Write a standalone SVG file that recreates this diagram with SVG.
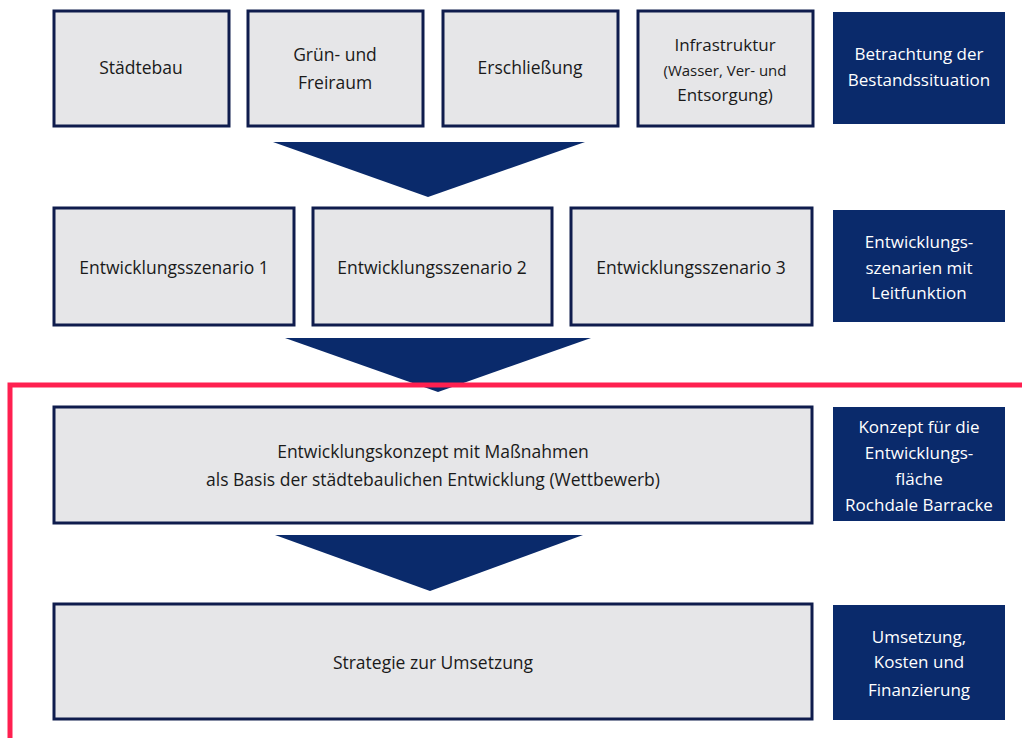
<svg xmlns="http://www.w3.org/2000/svg" width="1022" height="738" viewBox="0 0 1022 738">
<style>
.box{fill:#e6e6e8;stroke:#0f1c4d;stroke-width:3}
.dark{fill:#0a2a6b}
.arrow{fill:#0a2a6b}
.t{font-family:"Open Sans","Liberation Sans",sans-serif;font-size:17.5px;fill:#1a1a1a;text-anchor:middle}
.w{font-family:"Open Sans","Liberation Sans",sans-serif;font-size:17px;fill:#ffffff;text-anchor:middle}
</style>
<rect width="1022" height="738" fill="#ffffff"/>
<g id="connectors">
<polygon class="arrow" points="273,142 585,142 428,197"/>
<polygon class="arrow" points="285,338 591,338 438,392"/>
<polygon class="arrow" points="275,535 583,535 430,591"/>
</g>
<g id="staedtebau"><rect class="box" x="54" y="11" width="175" height="115"/><text class="t" x="141" y="74">Städtebau</text></g>
<g id="gruen"><rect class="box" x="248" y="11" width="175" height="115"/><text class="t" x="335" y="61">Grün- und</text><text class="t" x="335" y="89">Freiraum</text></g>
<g id="erschliessung"><rect class="box" x="443" y="11" width="175" height="115"/><text class="t" x="530" y="74">Erschließung</text></g>
<g id="infrastruktur"><rect class="box" x="638" y="11" width="175" height="115"/><text class="t" x="725" y="51" style="font-size:17px">Infrastruktur</text><text class="t" x="725" y="76" style="font-size:15px">(Wasser, Ver- und</text><text class="t" x="725" y="101" style="font-size:17px">Entsorgung)</text></g>
<g id="bestand"><rect class="dark" x="833" y="12" width="172" height="112"/><text class="w" x="919" y="60">Betrachtung der</text><text class="w" x="919" y="86">Bestandssituation</text></g>
<g id="szenario1"><rect class="box" x="54" y="208" width="240" height="117"/><text class="t" x="174" y="274">Entwicklungsszenario 1</text></g>
<g id="szenario2"><rect class="box" x="313" y="208" width="239" height="117"/><text class="t" x="432" y="274">Entwicklungsszenario 2</text></g>
<g id="szenario3"><rect class="box" x="571" y="208" width="241" height="117"/><text class="t" x="691" y="274">Entwicklungsszenario 3</text></g>
<g id="szenarien"><rect class="dark" x="833" y="210" width="172" height="112"/><text class="w" x="919" y="248">Entwicklungs-</text><text class="w" x="919" y="274">szenarien mit</text><text class="w" x="919" y="299">Leitfunktion</text></g>
<g id="konzept"><rect class="box" x="54" y="407" width="758" height="116"/><text class="t" x="433" y="458">Entwicklungskonzept mit Maßnahmen</text><text class="t" x="433" y="486">als Basis der städtebaulichen Entwicklung (Wettbewerb)</text></g>
<g id="konzeptlabel"><rect class="dark" x="833" y="407" width="172" height="114"/><text class="w" x="919" y="433">Konzept für die</text><text class="w" x="919" y="459">Entwicklungs-</text><text class="w" x="919" y="485">fläche</text><text class="w" x="919" y="511">Rochdale Barracke</text></g>
<g id="strategie"><rect class="box" x="54" y="604" width="758" height="115"/><text class="t" x="433" y="669">Strategie zur Umsetzung</text></g>
<g id="umsetzung"><rect class="dark" x="833" y="605" width="172" height="115"/><text class="w" x="919" y="643">Umsetzung,</text><text class="w" x="919" y="668">Kosten und</text><text class="w" x="919" y="696">Finanzierung</text></g>
<g id="frame"><polyline points="1022,385 10,385 10,738" fill="none" stroke="#ff2050" stroke-width="5"/></g>
</svg>
